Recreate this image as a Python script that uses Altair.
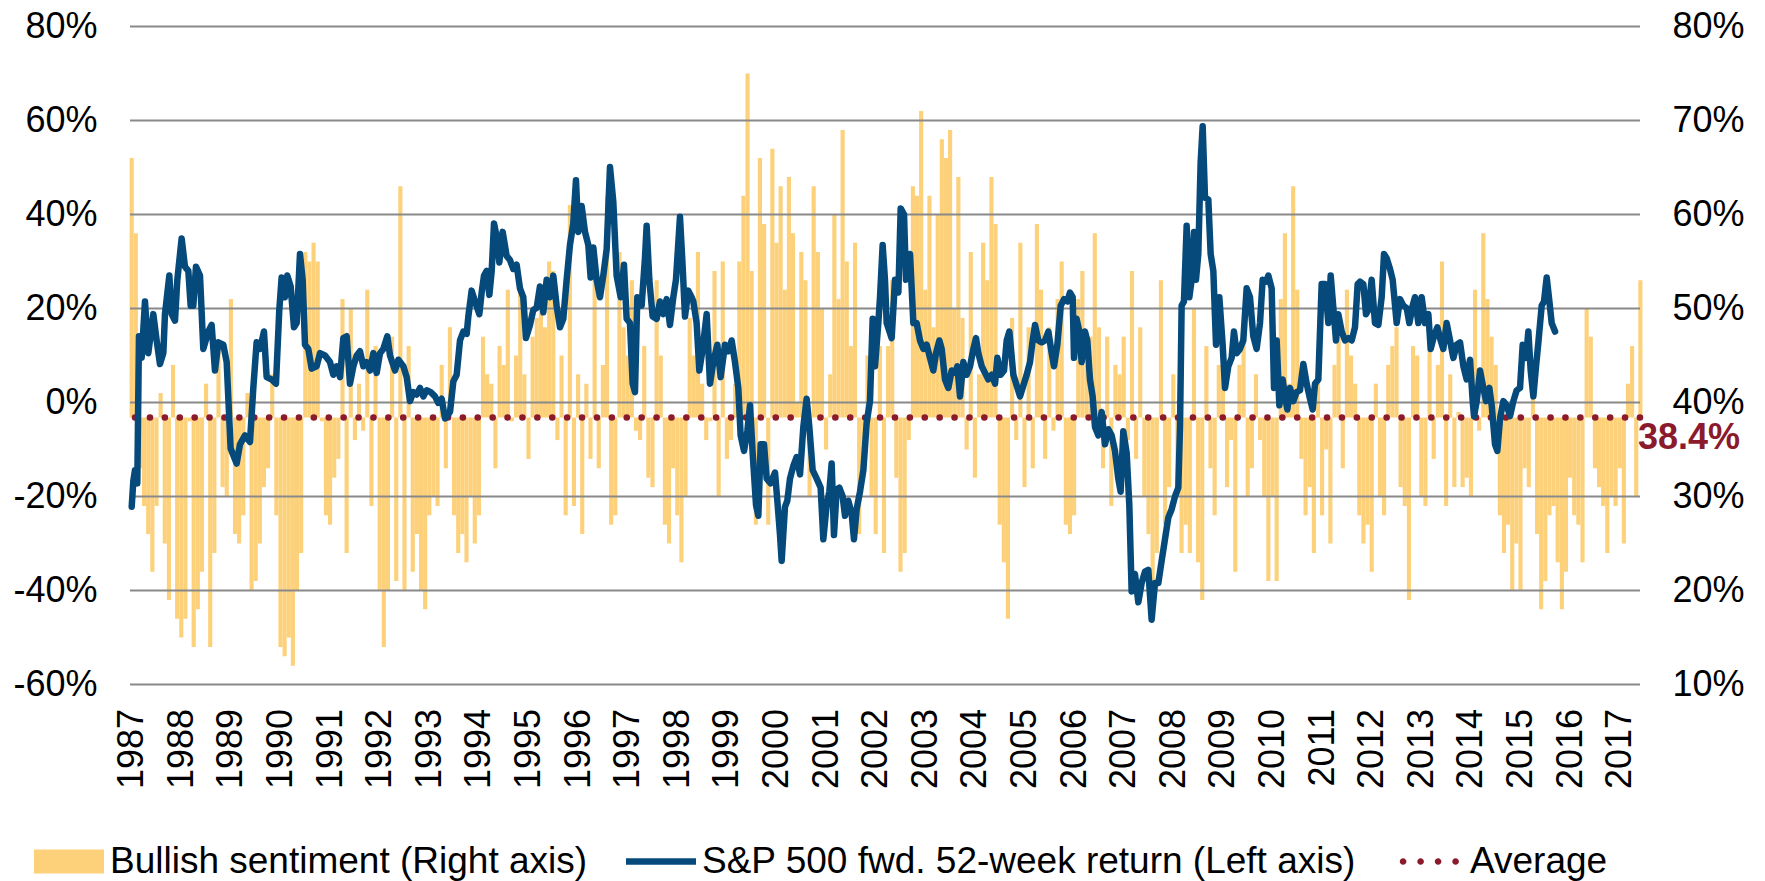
import altair as alt
import pandas as pd

FONT = "Liberation Sans"
YELLOW = "#FDD07A"
BLUE = "#064A7C"
RED = "#8B1A2C"
GRID = "#898989"

AVERAGE = 38.4
X_MIN, X_MAX = 1986.966, 2017.409
BAR_START = 1987.0
BAR_STEP = 1 / 12

# Bullish sentiment (%), monthly readings from the first week onwards (right axis)
bullish = (
    [66, 58, 33, 29, 26, 22, 29, 41, 25, 19, 44, 17, 15, 17, 38, 14, 18, 22, 42, 14,
     24, 46, 31, 30, 51, 26, 25, 28, 41, 20, 21, 25, 31, 33, 43, 28, 14, 13, 15, 12,
     20, 24, 56, 55, 57]
    + [55, 38, 28, 27, 32, 34, 51, 24, 50, 36, 42, 37, 52, 29, 46, 20, 14, 20, 47, 21,
       63, 20, 46, 22, 26, 20, 18, 28, 30, 29, 44, 33, 48, 28, 24, 26, 23, 30, 25, 28,
       47, 43, 42, 33, 46, 44]
    + [52, 38, 45, 52, 43, 34, 47, 49, 50, 48, 55, 54, 36, 45, 28, 61, 29, 43, 26, 42,
       34, 53, 33, 44, 62, 27, 28, 56, 48, 45, 53, 37, 36, 46, 32, 31, 53, 45, 27, 25,
       33, 28, 23, 30, 49, 45]
    + [56, 42, 36, 38, 54, 30, 55, 34, 36, 42, 55, 62, 75, 54, 27, 66, 59, 27, 67, 57,
       63, 52, 64, 58, 40, 56, 53, 30, 63, 56, 50, 35, 43, 60, 51, 69, 55, 46, 57, 26,
       34, 45, 30, 26, 46, 24]
    + [46, 53, 32, 22, 24, 36, 63, 62, 71, 52, 62, 48, 60, 68, 66, 69, 50, 64, 49, 35,
       56, 32, 43, 57, 53, 64, 59, 27, 23, 17, 49, 36, 57, 31, 48, 33, 59, 52, 34, 48,
       37, 51, 55, 27, 26, 28]
    + [51, 54, 44, 47, 58, 48, 33, 47, 29, 44, 43, 47, 36, 54, 34, 48, 30, 26, 19, 24,
       53, 27, 31, 43, 30, 24, 27, 24, 50, 23, 19, 46, 33, 28, 44, 43, 31, 36, 22, 44,
       48, 30, 33, 43, 36, 30]
    + [21, 30, 21, 51, 58, 42, 63, 52, 34, 28, 31, 24, 42, 28, 35, 25, 44, 47, 33, 52,
       45, 42, 28, 25, 27, 22, 42, 30, 28, 44, 46, 48, 31, 29, 19, 46, 45, 30, 29, 46,
       34, 44, 55, 29, 43, 31]
    + [39, 31, 32, 30, 52, 37, 58, 51, 47, 44, 28, 24, 27, 20, 25, 20, 33, 31, 41, 26,
       18, 21, 28, 29, 23, 18, 22, 32, 28, 27, 23, 50, 47, 33, 31, 29, 24, 30, 29, 33,
       25, 42, 46, 30, 53]
)

# S&P 500 forward 52-week return (%), left axis
sp_years = [
    1987.000, 1987.033, 1987.066, 1987.113, 1987.147, 1987.201, 1987.268, 1987.335, 1987.436, 1987.503,
    1987.570, 1987.638, 1987.671, 1987.759, 1987.806, 1987.873, 1987.920, 1988.007, 1988.074, 1988.142,
    1988.189, 1988.242, 1988.296, 1988.377, 1988.444, 1988.545, 1988.612, 1988.679, 1988.747, 1988.847,
    1988.915, 1988.995, 1989.116, 1989.183, 1989.284, 1989.385, 1989.452, 1989.519, 1989.587, 1989.667,
    1989.721, 1989.822, 1989.909, 1989.976, 1990.023, 1990.091, 1990.138, 1990.205, 1990.272, 1990.326,
    1990.393, 1990.447, 1990.494, 1990.561, 1990.628,
    1990.729, 1990.797, 1990.897, 1990.998, 1991.065, 1991.133, 1991.200, 1991.267, 1991.334, 1991.401,
    1991.469, 1991.536, 1991.603, 1991.670, 1991.737, 1991.805, 1991.872, 1991.939, 1992.006, 1992.073,
    1992.154, 1992.208, 1992.309, 1992.376, 1992.477, 1992.544, 1992.611, 1992.678, 1992.746, 1992.813,
    1992.880, 1992.947, 1993.028, 1993.115, 1993.182, 1993.250, 1993.317, 1993.418, 1993.485, 1993.552,
    1993.619, 1993.686, 1993.754, 1993.787, 1993.854, 1993.922, 1994.009, 1994.056, 1994.103, 1994.157,
    1994.211, 1994.258, 1994.305, 1994.358, 1994.412, 1994.479,
    1994.559, 1994.627, 1994.694, 1994.761, 1994.828, 1994.895, 1994.949, 1995.030, 1995.097, 1995.164,
    1995.231, 1995.299, 1995.366, 1995.433, 1995.500, 1995.567, 1995.635, 1995.702, 1995.769, 1995.836,
    1995.903, 1995.957, 1996.004, 1996.072, 1996.139, 1996.206, 1996.253, 1996.307, 1996.374, 1996.441,
    1996.508, 1996.576, 1996.643, 1996.710, 1996.777, 1996.858, 1996.925, 1996.979, 1997.046, 1997.100,
    1997.147, 1997.194, 1997.281, 1997.348, 1997.382, 1997.436, 1997.503, 1997.584, 1997.651, 1997.718,
    1997.785, 1997.852, 1997.920, 1997.973, 1998.054, 1998.108, 1998.155, 1998.222, 1998.289,
    1998.323, 1998.390, 1998.444, 1998.511, 1998.592, 1998.659, 1998.726, 1998.807, 1998.874, 1998.962,
    1999.029, 1999.096, 1999.163, 1999.230, 1999.277, 1999.345, 1999.412, 1999.466, 1999.519, 1999.587,
    1999.634, 1999.681, 1999.748, 1999.802, 1999.882, 1999.970, 2000.017, 2000.071, 2000.104, 2000.171,
    2000.218, 2000.272, 2000.339, 2000.407, 2000.474, 2000.541, 2000.608, 2000.662, 2000.729, 2000.810,
    2000.890, 2000.944, 2001.011, 2001.065, 2001.112, 2001.159, 2001.213, 2001.267, 2001.334, 2001.381,
    2001.448, 2001.515, 2001.562, 2001.616, 2001.683, 2001.751, 2001.818, 2001.885, 2001.939, 2001.986,
    2002.053, 2002.087, 2002.140, 2002.187,
    2002.221, 2002.322, 2002.389, 2002.457, 2002.504, 2002.571, 2002.611, 2002.692, 2002.759, 2002.826,
    2002.893, 2002.961, 2003.028, 2003.095, 2003.162, 2003.216, 2003.283, 2003.330, 2003.397, 2003.465,
    2003.532, 2003.599, 2003.646, 2003.700, 2003.767, 2003.834, 2003.902, 2003.969, 2004.022, 2004.069,
    2004.137, 2004.204, 2004.271, 2004.338, 2004.406, 2004.453, 2004.520, 2004.587, 2004.641, 2004.695,
    2004.775, 2004.842, 2004.910, 2004.977, 2005.044, 2005.111, 2005.165, 2005.212, 2005.279, 2005.346,
    2005.414, 2005.481, 2005.548, 2005.595, 2005.662, 2005.730, 2005.797, 2005.864,
    2005.917, 2005.971, 2005.998, 2006.051, 2006.105, 2006.152, 2006.219, 2006.266, 2006.320, 2006.374,
    2006.421, 2006.488, 2006.555, 2006.623, 2006.690, 2006.757, 2006.824, 2006.891, 2006.938, 2006.992,
    2007.059, 2007.113, 2007.160, 2007.227, 2007.295, 2007.362, 2007.429, 2007.496, 2007.563, 2007.631,
    2007.698, 2007.765, 2007.832, 2007.899, 2007.967, 2008.034, 2008.101, 2008.135, 2008.168, 2008.215,
    2008.269, 2008.323, 2008.370, 2008.417, 2008.457, 2008.504, 2008.551, 2008.592, 2008.639, 2008.706,
    2008.753, 2008.807, 2008.861, 2008.928, 2008.995, 2009.042, 2009.109, 2009.176, 2009.223, 2009.277,
    2009.344, 2009.411, 2009.479, 2009.546, 2009.613, 2009.680, 2009.748, 2009.801,
    2009.869, 2009.916, 2009.983, 2010.030, 2010.084, 2010.138, 2010.205, 2010.252, 2010.299, 2010.353,
    2010.420, 2010.487, 2010.554, 2010.622, 2010.689, 2010.756, 2010.810, 2010.857, 2010.924, 2010.991,
    2011.058, 2011.126, 2011.173, 2011.227, 2011.280, 2011.327, 2011.395, 2011.462, 2011.529, 2011.596,
    2011.663, 2011.717, 2011.764, 2011.831, 2011.885, 2011.932, 2011.999, 2012.066, 2012.134, 2012.201,
    2012.248, 2012.302, 2012.369, 2012.423, 2012.503, 2012.570, 2012.638, 2012.705, 2012.759, 2012.826,
    2012.873, 2012.940, 2013.007, 2013.075, 2013.142, 2013.189, 2013.256, 2013.323, 2013.390, 2013.444,
    2013.511, 2013.579,
    2013.646, 2013.713, 2013.781, 2013.848, 2013.915, 2013.982, 2014.036, 2014.063, 2014.117, 2014.184,
    2014.251, 2014.305, 2014.372, 2014.419, 2014.486, 2014.533, 2014.587, 2014.654, 2014.721, 2014.789,
    2014.856, 2014.923, 2014.990, 2015.044, 2015.111, 2015.158, 2015.205, 2015.259, 2015.313, 2015.360,
    2015.427, 2015.474, 2015.528, 2015.582, 2015.629, 2015.696,
]
sp_returns = [
    -22.2, -16.7, -14.4, -17.2, 14.1, 9.5, 21.5, 10.5, 18.8, 13.2,
    8.2, 10.5, 18.8, 27.0, 18.8, 17.4, 26.1, 34.9, 28.9, 28.0,
    20.6, 20.6, 28.9, 27.0, 11.4, 15.1, 16.5, 6.8, 12.8, 12.3,
    8.6, -9.8, -13.0, -8.9, -7.0, -8.4, 3.1, 12.8, 11.4, 15.1,
    5.4, 4.9, 4.0, 19.7, 26.6, 22.4, 27.0, 24.7, 16.0, 16.9,
    31.6, 26.1, 12.3, 11.4, 7.2,
    7.7, 10.5, 10.0, 8.6, 5.9, 7.7, 5.4, 13.7, 14.1, 4.0,
    7.7, 10.0, 10.9, 7.7, 8.6, 6.8, 10.5, 6.3, 10.5, 11.4,
    14.1, 10.0, 6.8, 9.1, 7.7, 5.4, 0.3, 2.2, 1.7, 3.1,
    1.3, 2.6, 2.2, 1.3, -0.1, 0.8, -3.4, -2.0, 4.5, 5.9,
    13.2, 15.1, 14.6, 18.3, 23.8, 21.5, 18.8, 23.4, 27.0, 28.0,
    22.9, 28.0, 38.1, 35.3, 29.8, 36.3,
    31.2, 30.3, 28.4, 29.3, 24.3, 22.4, 13.7, 16.5, 19.7, 20.1,
    24.7, 19.2, 26.1, 22.4, 27.0, 20.6, 16.0, 17.8, 26.1, 33.5,
    38.1, 47.3, 36.3, 41.8, 36.3, 33.5, 26.6, 33.0, 26.1, 22.4,
    27.0, 32.6, 50.1, 42.7, 27.0, 22.4, 29.3, 17.8, 16.9, 4.0,
    2.2, 22.4, 20.6, 30.7, 37.6, 26.1, 18.3, 17.8, 21.5, 18.8,
    22.0, 16.5, 22.4, 26.1, 39.5, 28.9, 18.3, 23.8, 22.4,
    21.5, 16.9, 6.8, 11.4, 18.8, 4.0, 8.6, 12.3, 5.4, 12.3,
    10.9, 13.2, 8.6, 3.1, -7.0, -10.3, -6.1, -0.6, -10.7, -21.8,
    -24.1, -8.9, -8.9, -16.2, -17.2, -14.9, -20.9, -28.2, -33.7, -22.2,
    -20.9, -16.2, -13.5, -11.6, -15.3, -5.2, 0.8, -5.2, -14.4, -16.2,
    -18.1, -29.1, -21.8, -19.0, -13.0, -28.2, -18.5, -18.1, -20.0, -24.1,
    -20.9, -23.6, -29.1, -22.7, -19.0, -14.4, -4.3, 0.3, 17.8, 7.7,
    16.9, 22.4, 33.5, 26.1,
    16.9, 13.7, 26.1, 23.4, 41.3, 40.0, 26.1, 31.6, 16.9, 16.9,
    13.2, 11.4, 12.3, 9.5, 6.8, 10.5, 13.2, 11.4, 4.9, 3.1,
    6.8, 6.3, 7.7, 1.3, 8.6, 5.9, 7.7, 11.4, 13.7, 10.5,
    7.7, 6.3, 4.9, 5.9, 4.0, 9.5, 5.9, 6.8, 13.2, 15.1,
    5.9, 3.6, 1.3, 3.6, 5.9, 8.6, 13.2, 16.5, 13.2, 12.8,
    13.2, 15.1, 10.5, 7.7, 12.3, 20.6, 22.0, 21.5,
    23.4, 22.4, 9.5, 17.8, 15.1, 8.6, 15.1, 13.2, 4.9, 1.3,
    -5.2, -7.0, -2.0, -8.9, -5.7, -7.0, -10.3, -16.2, -19.0, -6.1,
    -10.7, -21.8, -40.2, -36.5, -42.5, -38.4, -36.0, -35.6, -46.2, -38.4,
    -38.4, -33.7, -29.1, -24.5, -22.7, -20.0, -18.1, -5.2, 20.6, 21.5,
    37.6, 22.4, 26.1, 36.3, 26.1, 31.6, 51.0, 58.8, 43.6, 43.2,
    31.6, 28.0, 12.3, 22.4, 12.3, 3.1, 7.7, 9.5, 15.1, 10.5,
    11.4, 13.2, 24.3, 22.4, 14.1, 11.4, 16.9, 26.1,
    25.7, 27.0, 24.3, 3.1, 13.2, -0.6, 4.9, 1.3, -1.5, 3.1,
    0.3, 2.2, 2.6, 8.2, 4.0, 0.8, -1.5, 4.0, 4.9, 25.2,
    25.2, 16.9, 27.0, 20.1, 13.2, 18.8, 15.1, 13.2, 13.7, 13.2,
    16.0, 25.2, 25.7, 25.2, 18.8, 19.7, 26.1, 16.9, 16.5, 22.4,
    31.6, 30.7, 28.4, 26.1, 16.9, 22.0, 20.6, 20.1, 16.9, 20.6,
    22.4, 16.9, 22.4, 16.9, 18.8, 11.4, 14.1, 16.0, 13.2, 11.4,
    16.9, 13.2,
    9.5, 12.3, 12.8, 7.7, 4.9, 9.1, 0.3, -2.9, 0.3, 6.8,
    3.1, 0.3, 3.1, -0.6, -8.9, -10.3, -3.4, 0.3, -0.6, -2.9,
    0.3, 2.6, 3.1, 12.3, 9.5, 15.1, 6.8, 1.3, 7.7, 12.8,
    20.6, 21.5, 26.6, 21.5, 16.9, 15.1,
]

year_ticks = list(range(1987, 2018))
left_ticks = [-60, -40, -20, 0, 20, 40, 60, 80]
right_ticks = [10, 20, 30, 40, 50, 60, 70, 80]
series = [
    "Bullish sentiment (Right axis)",
    "S&P 500 fwd. 52-week return (Left axis)",
    "Average",
]
series_colors = [YELLOW, BLUE, RED]

# legend swatch shapes (unit square coordinates)
SWATCH_BAR = "M-1,-0.34L1,-0.34L1,0.34L-1,0.34Z"
SWATCH_LINE = "M-1,-0.095L1,-0.095L1,0.095L-1,0.095Z"
_r = 0.095
SWATCH_DOTS = "".join(
    f"M{c - _r:.3f},0A{_r},{_r} 0 1,0 {c + _r:.3f},0A{_r},{_r} 0 1,0 {c - _r:.3f},0Z"
    for c in [-0.74, -0.24, 0.26, 0.76]
)

# ---------------- data frames ----------------
bars_df = pd.DataFrame({
    "t0": [BAR_START + i * BAR_STEP - BAR_STEP / 2 for i in range(len(bullish))],
    "t1": [BAR_START + i * BAR_STEP + BAR_STEP / 2 for i in range(len(bullish))],
    "bull": bullish,
    "base": [AVERAGE] * len(bullish),
})
sp_df = pd.DataFrame({"t": sp_years, "ret": sp_returns})
grid_df = pd.DataFrame({"v": left_ticks})
avg_df = pd.DataFrame({"avg": [AVERAGE], "xend": [X_MAX], "label": [f"{AVERAGE}%"]})
leg_df = pd.DataFrame({"series": series, "t": [X_MIN] * 3, "v": [0] * 3})

# ---------------- scales & axes ----------------
x_scale = alt.Scale(domain=[X_MIN, X_MAX], nice=False, zero=False)
left_scale = alt.Scale(domain=[-60, 80], nice=False, zero=False)
right_scale = alt.Scale(domain=[10, 80], nice=False, zero=False)

x_axis = alt.Axis(
    values=year_ticks, format="d", title=None, labelAngle=270, labelPadding=24,
    ticks=False, tickSize=0, domain=False, grid=False, labelOverlap=False,
    labelFlush=False, labelFontSize=36, labelFont=FONT, labelColor="black",
)
left_axis = alt.Axis(
    orient="left", values=left_ticks, labelExpr="datum.value + '%'", title=None,
    ticks=False, tickSize=0, domain=False, grid=False, labelPadding=33,
    labelFontSize=36, labelFont=FONT, labelColor="black",
)
right_axis = alt.Axis(
    orient="right", values=right_ticks, labelExpr="datum.value + '%'", title=None,
    ticks=False, tickSize=0, domain=False, grid=False, labelPadding=32,
    labelFontSize=36, labelFont=FONT, labelColor="black",
)

legend = alt.Legend(
    title=None, orient="none", legendX=-96, legendY=800, direction="horizontal",
    columns=3, symbolSize=4900, symbolOpacity=1, symbolStrokeWidth=0,
    labelFontSize=37, labelFont=FONT, labelColor="black", labelOffset=6,
    columnPadding=38, labelLimit=2000, padding=0, rowPadding=0,
)

# ---------------- right-axis group ----------------
bars = alt.Chart(bars_df).mark_rect(color=YELLOW).encode(
    x=alt.X("t0:Q", scale=x_scale, axis=x_axis),
    x2="t1:Q",
    y=alt.Y("bull:Q", scale=right_scale, axis=right_axis),
    y2="base:Q",
)
avg_rule = alt.Chart(avg_df).mark_rule(
    color=RED, strokeWidth=6.5, strokeDash=[0.1, 14.8], strokeCap="round"
).encode(y=alt.Y("avg:Q", scale=right_scale, axis=right_axis))
avg_text = alt.Chart(avg_df).mark_text(
    align="left", baseline="middle", dx=-2, dy=20, fontSize=36, fontWeight="bold",
    font=FONT, color=RED,
).encode(
    x=alt.X("xend:Q", scale=x_scale, axis=x_axis),
    y=alt.Y("avg:Q", scale=right_scale, axis=right_axis),
    text="label:N",
)
right_group = alt.layer(bars, avg_rule, avg_text)

# ---------------- left-axis group ----------------
grid = alt.Chart(grid_df).mark_rule(color=GRID, strokeWidth=2).encode(
    y=alt.Y("v:Q", scale=left_scale, axis=left_axis)
)
line = alt.Chart(sp_df).mark_line(
    color=BLUE, strokeWidth=6.5, strokeJoin="round", strokeCap="round"
).encode(
    x=alt.X("t:Q", scale=x_scale, axis=x_axis),
    y=alt.Y("ret:Q", scale=left_scale, axis=left_axis),
    order="t:Q",
)
legend_pts = alt.Chart(leg_df).mark_point(filled=True, opacity=0).encode(
    x=alt.X("t:Q", scale=x_scale, axis=x_axis),
    y=alt.Y("v:Q", scale=left_scale, axis=left_axis),
    color=alt.Color("series:N", scale=alt.Scale(domain=series, range=series_colors), legend=legend),
    shape=alt.Shape("series:N", scale=alt.Scale(domain=series, range=[SWATCH_BAR, SWATCH_LINE, SWATCH_DOTS]), legend=legend),
)
left_group = alt.layer(grid, line, legend_pts)

chart = (
    alt.layer(right_group, left_group)
    .resolve_scale(y="independent")
    .properties(
        width=1510,
        height=658,
        autosize=alt.AutoSizeParams(type="none"),
        padding={"left": 122, "top": 18.5, "right": 109, "bottom": 196},
        background="white",
    )
    .configure_view(stroke=None)
)

chart.save("out.html", embed_options={"renderer": "svg", "actions": False})
